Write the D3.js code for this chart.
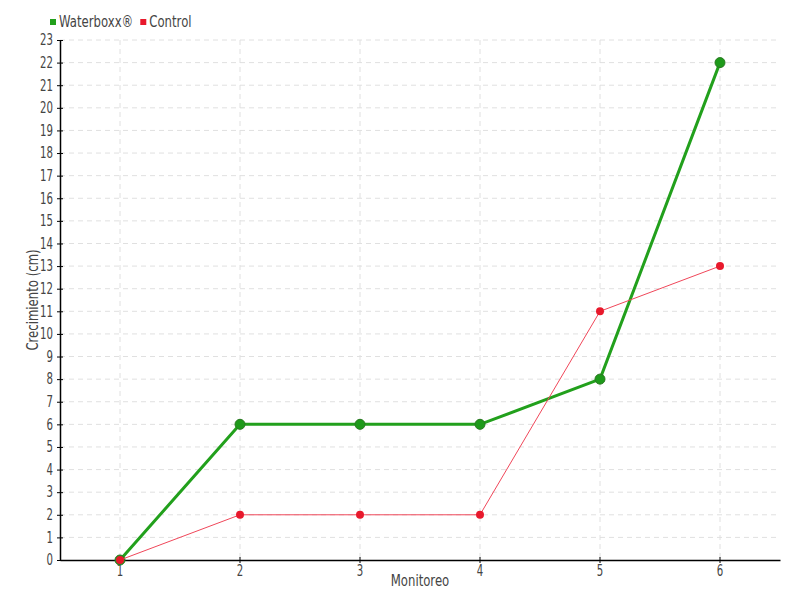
<!DOCTYPE html>
<html><head><meta charset="utf-8">
<script src="https://cdn.jsdelivr.net/npm/d3@7"></script>
<style>
body{margin:0;background:#fff;}
text{font-family:"DejaVu Sans",sans-serif;fill:#444;}
</style></head>
<body><svg id="c" width="800" height="600"></svg>
<script>
const categories = ["1","2","3","4","5","6"];
const waterboxx = [0,6,6,6,8,22];
const control = [0,2,2,2,11,13];
const yTicks = d3.range(0,24);
const seriesNames = ["Waterboxx®","Control"];
const colors = ["#22a01c","#e8192c"];

const svg = d3.select("#c");
const m = {l:60,r:20,t:40,b:40};
const W=800,H=600;
const SX = 0.78, TX = 0.68;
const x = d3.scaleBand().domain(categories).range([m.l,W-m.r]);
const y = d3.scaleLinear().domain([0,23]).range([H-m.b,m.t]);
const cx = d => x(d)+x.bandwidth()/2;

// grid
const g = svg.append("g");
g.selectAll(".hg").data(yTicks.slice(1)).enter().append("line")
 .attr("x1",m.l).attr("x2",W-m.r).attr("y1",d=>y(d)).attr("y2",d=>y(d))
 .attr("stroke","#e0e0e0").attr("stroke-dasharray","5,4");
g.selectAll(".vg").data(categories).enter().append("line")
 .attr("x1",d=>cx(d)).attr("x2",d=>cx(d)).attr("y1",m.t).attr("y2",H-m.b)
 .attr("stroke","#e0e0e0").attr("stroke-dasharray","5,4");

// axes
const ya = svg.append("g").attr("transform",`translate(${m.l},0)`)
 .call(d3.axisLeft(y).tickValues(yTicks).tickFormat(d3.format("d")).tickSizeInner(3).tickSizeOuter(0).tickPadding(4));
ya.selectAll(".tick line").attr("x2",3).attr("x1",-3).attr("stroke","#000");
ya.select(".domain").attr("stroke","#000").attr("stroke-width",1.5);
ya.selectAll(".tick text").attr("font-size",15).attr("fill","#444").attr("font-family","DejaVu Sans")
  .attr("x",-7/TX).attr("transform",`scale(${TX},1)`);

const xa = svg.append("g").attr("transform",`translate(0,${H-m.b})`)
 .call(d3.axisBottom(x).tickSizeInner(3).tickSizeOuter(0).tickPadding(2));
xa.selectAll(".tick line").attr("y1",-3).attr("y2",3).attr("stroke","#000");
xa.select(".domain").attr("stroke","#000").attr("stroke-width",1.5);
xa.selectAll(".tick text").attr("font-size",15).attr("fill","#444").attr("font-family","DejaVu Sans")
  .attr("transform",`scale(${TX},1)`);

svg.append("text").attr("transform",`translate(${(m.l+W-m.r)/2},586) scale(${SX},1)`).attr("text-anchor","middle")
 .attr("font-size",15).text("Monitoreo");
svg.append("text").attr("transform",`translate(38,${(m.t+H-m.b)/2}) rotate(-90) scale(${SX},1)`).attr("text-anchor","middle")
 .attr("font-size",15).text("Crecimiento (cm)");

// lines
const line = d3.line().x((d,i)=>cx(categories[i])).y(d=>y(d));
svg.append("path").datum(waterboxx).attr("d",line).attr("fill","none")
 .attr("stroke",colors[0]).attr("stroke-width",3);
svg.selectAll(".pw").data(waterboxx).enter().append("circle")
 .attr("cx",(d,i)=>cx(categories[i])).attr("cy",d=>y(d)).attr("r",5)
 .attr("fill","#1e9a1a").attr("stroke","#2a7a22").attr("stroke-width",1);
svg.append("path").datum(control).attr("d",line).attr("fill","none")
 .attr("stroke","#f0475a").attr("stroke-width",1);
svg.selectAll(".pc").data(control).enter().append("circle")
 .attr("cx",(d,i)=>cx(categories[i])).attr("cy",d=>y(d)).attr("r",4)
 .attr("fill",colors[1]);

// legend
const lg = svg.append("g");
let lx = 50;
seriesNames.forEach((n,i)=>{
  lg.append("rect").attr("x",lx).attr("y",19).attr("width",6).attr("height",6).attr("fill",colors[i]);
  const t = lg.append("text").attr("transform",`translate(${lx+9},27) scale(${SX},1)`).attr("font-size",15).text(n);
  lx += 9 + t.node().getComputedTextLength()*SX + 7;
});
</script></body></html>
